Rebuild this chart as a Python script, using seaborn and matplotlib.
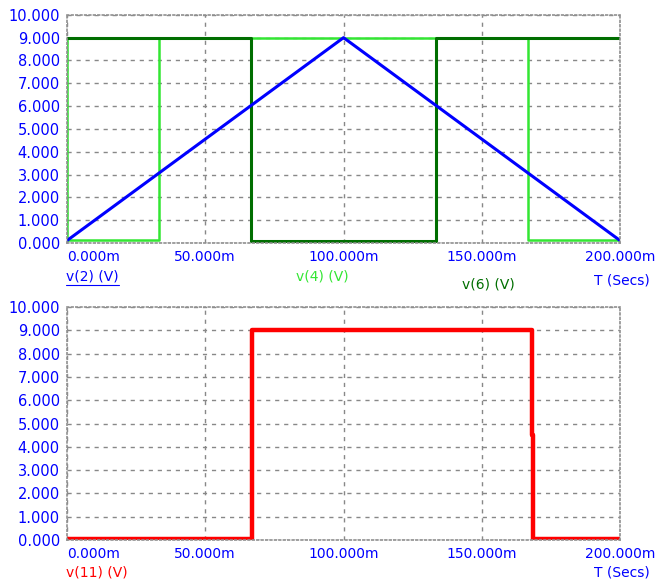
import matplotlib
matplotlib.use("Agg")
import matplotlib.pyplot as plt
from matplotlib.lines import Line2D
import seaborn as sns

# time in ms
T_V2 = [0, 100, 200]
V2 = [0.1, 9.0, 0.1]

T_V4 = [0, 0, 33.3, 33.3, 166.7, 166.7, 200]
V4 = [9.0, 0.15, 0.15, 9.0, 9.0, 0.15, 0.15]

T_V6 = [0, 66.7, 66.7, 133.3, 133.3, 200]
V6 = [9.0, 9.0, 0.1, 0.1, 9.0, 9.0]

T_V11 = [0, 66.9, 66.9, 168.0, 168.0, 168.6, 168.6, 200]
V11 = [0.05, 0.05, 9.0, 9.0, 4.5, 4.5, 0.05, 0.05]

X_TICKS = [0, 50, 100, 150, 200]
X_LABELS = ["0.000m", "50.000m", "100.000m", "150.000m", "200.000m"]
Y_TICKS = list(range(0, 11))
Y_LABELS = [f"{v}.000" for v in Y_TICKS]

BLUE = "#0000ff"
LIME = "#33e633"
DKGREEN = "#006e00"
RED = "#ff0000"

sns.set_style("white")
plt.rcParams["font.family"] = ["DejaVu Sans"]

fig = plt.figure(figsize=(6.55, 5.82), dpi=100)
ax1 = fig.add_axes([0.102, 0.5825, 0.845, 0.392])
ax2 = fig.add_axes([0.102, 0.0722, 0.845, 0.400])


def style_axes(ax):
    ax.set_xlim(0, 200)
    ax.set_ylim(0, 10)
    ax.tick_params(length=0, pad=5)
    ax.set_xticks(X_TICKS)
    ax.set_xticklabels(X_LABELS, color=BLUE, fontsize=10)
    ax.set_yticks(Y_TICKS)
    ax.set_yticklabels(Y_LABELS, color=BLUE, fontsize=10.5)
    ax.grid(True, color="#888888", linestyle=(0, (3, 3.5)), linewidth=1)
    ax.set_axisbelow(True)
    for sp in ax.spines.values():
        sp.set_visible(True)
        sp.set_color("#909090")
        sp.set_linestyle(":")
        sp.set_linewidth(1.2)
    ax.set_xlabel("")
    ax.set_ylabel("")
    ax.get_xticklabels()[0].set_horizontalalignment("left")


sns.lineplot(x=T_V4, y=V4, ax=ax1, color=LIME, linewidth=1.8,
             estimator=None, sort=False)
sns.lineplot(x=T_V6, y=V6, ax=ax1, color=DKGREEN, linewidth=2.2,
             estimator=None, sort=False)
sns.lineplot(x=T_V2, y=V2, ax=ax1, color=BLUE, linewidth=2.2,
             estimator=None, sort=False)
style_axes(ax1)

sns.lineplot(x=T_V11, y=V11, ax=ax2, color=RED, linewidth=3.2,
             estimator=None, sort=False)
style_axes(ax2)

# trace names under the axes
fig.text(66 / 655, 1 - 277 / 582, "v(2) (V)", color=BLUE, fontsize=10,
         va="center", ha="left")
fig.add_artist(Line2D([66 / 655, 119 / 655], [1 - 285 / 582, 1 - 285 / 582],
                      color=BLUE, linewidth=0.8))
fig.text(296 / 655, 1 - 276 / 582, "v(4) (V)", color=LIME, fontsize=10,
         va="center", ha="left")
fig.text(462 / 655, 1 - 284 / 582, "v(6) (V)", color=DKGREEN, fontsize=10,
         va="center", ha="left")
fig.text(650 / 655, 1 - 280 / 582, "T (Secs)", color=BLUE, fontsize=10,
         va="center", ha="right")
fig.text(66 / 655, 1 - 572 / 582, "v(11) (V)", color=RED, fontsize=10,
         va="center", ha="left")
fig.text(650 / 655, 1 - 572 / 582, "T (Secs)", color=BLUE, fontsize=10,
         va="center", ha="right")

fig.savefig("out.png", dpi=100)
